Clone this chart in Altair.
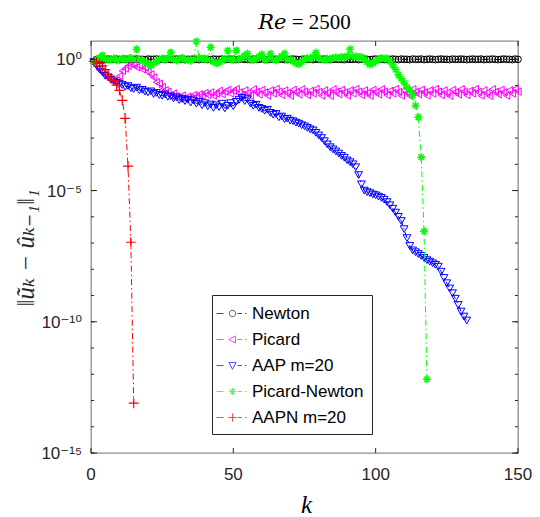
import altair as alt
import pandas as pd

# ---------------- data (log10 of the residual) ----------------
series_names = ["Newton", "Picard", "AAP m=20", "Picard-Newton", "AAPN m=20"]
colors = ["#000000", "#ff00ff", "#0000ff", "#00ff00", "#ff0000"]

newton_log = [
    -0.08, 0.00, 0.01, 0.00, -0.01, 0.01, 0.00, 0.00, 0.01, -0.01,
    0.00, 0.01, 0.00, -0.01, 0.00, 0.01, 0.00, 0.00, -0.01, 0.01,
    0.00, 0.00, 0.01, -0.01, 0.00, 0.01, 0.00, -0.01, 0.00, 0.01,
    0.00, 0.01, -0.01, 0.00, 0.00, 0.01, 0.00, -0.01, 0.01, 0.00,
    0.00, -0.01, 0.01, 0.00, 0.00, 0.01, -0.01, 0.00, 0.01, 0.00,
    -0.01, 0.00, 0.01, 0.00, 0.00, -0.01, 0.01, 0.00, 0.00, 0.01,
    0.00, -0.01, 0.00, 0.01, 0.00, 0.00, 0.01, -0.01, 0.00, 0.00,
    0.01, 0.00, -0.01, 0.00, 0.01, 0.00, 0.00, -0.01, 0.01, 0.00,
    0.00, 0.01, 0.00, -0.01, 0.00, 0.01, 0.00, 0.00, -0.01, 0.01,
    0.00, 0.00, 0.01, -0.01, 0.00, 0.01, 0.00, -0.01, 0.00, 0.01,
    0.00, 0.01, -0.01, 0.00, 0.00, 0.01, 0.00, -0.01, 0.01, 0.00,
    0.00, -0.01, 0.01, 0.00, 0.00, 0.01, -0.01, 0.00, 0.01, 0.00,
    -0.01, 0.00, 0.01, 0.00, 0.00, -0.01, 0.01, 0.00, 0.00, 0.01,
    0.00, -0.01, 0.00, 0.01, 0.00, 0.00, 0.01, -0.01, 0.00, 0.00,
    0.01, 0.00, -0.01, 0.00, 0.01, 0.00, 0.00, -0.01, 0.01, 0.00,
]

picard_log = [
    -0.10, -0.25, -0.40, -0.51, -0.61, -0.69, -0.77, -0.84, -0.81, -0.64,
    -0.44, -0.35, -0.25, -0.18, -0.22, -0.30, -0.24, -0.38, -0.32, -0.47,
    -0.57, -0.69, -0.87, -0.93, -1.06, -1.18, -1.24, -1.38, -1.30, -1.41,
    -1.47, -1.38, -1.49, -1.42, -1.47, -1.36, -1.43, -1.33, -1.39, -1.28,
    -1.36, -1.26, -1.38, -1.30, -1.20, -1.33, -1.23, -1.16, -1.30, -1.20,
    -1.13, -1.26, -1.36, -1.18, -1.28, -1.38, -1.14, -1.24, -1.34, -1.16,
    -1.26, -1.38, -1.18, -1.30, -1.13, -1.23, -1.36, -1.18, -1.28, -1.39,
    -1.16, -1.25, -1.34, -1.14, -1.23, -1.36, -1.20, -1.30, -1.13, -1.24,
    -1.38, -1.18, -1.28, -1.39, -1.14, -1.24, -1.33, -1.16, -1.26, -1.38,
    -1.18, -1.30, -1.13, -1.23, -1.36, -1.18, -1.28, -1.39, -1.16, -1.25,
    -1.34, -1.14, -1.23, -1.36, -1.20, -1.30, -1.13, -1.24, -1.38, -1.18,
    -1.28, -1.39, -1.14, -1.24, -1.33, -1.16, -1.26, -1.38, -1.18, -1.30,
    -1.13, -1.23, -1.36, -1.18, -1.28, -1.39, -1.16, -1.25, -1.34, -1.14,
    -1.23, -1.36, -1.20, -1.30, -1.13, -1.24, -1.38, -1.18, -1.28, -1.39,
    -1.14, -1.24, -1.33, -1.16, -1.26, -1.38, -1.18, -1.30, -1.13, -1.23,
]

aap_log = [
    -0.10, -0.25, -0.38, -0.49, -0.63, -0.69, -0.79, -0.84, -0.90, -0.94,
    -0.98, -1.04, -1.02, -1.10, -1.13, -1.08, -1.18, -1.16, -1.23, -1.26,
    -1.22, -1.32, -1.28, -1.36, -1.39, -1.34, -1.43, -1.41, -1.49, -1.45,
    -1.55, -1.51, -1.59, -1.54, -1.65, -1.57, -1.69, -1.62, -1.75, -1.67,
    -1.79, -1.72, -1.85, -1.75, -1.82, -1.69, -1.87, -1.77, -1.67, -1.79,
    -1.62, -1.55, -1.47, -1.59, -1.52, -1.69, -1.77, -1.73, -1.85, -1.89,
    -1.96, -1.92, -2.04, -2.11, -2.08, -2.21, -2.18, -2.28, -2.26, -2.34,
    -2.36, -2.41, -2.45, -2.51, -2.55, -2.61, -2.67, -2.71, -2.80, -2.90,
    -3.00, -3.12, -3.24, -3.35, -3.43, -3.51, -3.59, -3.68, -3.75, -3.85,
    -3.92, -4.00, -4.11, -4.41, -4.76, -5.00, -5.06, -5.10, -5.15, -5.18,
    -5.23, -5.28, -5.35, -5.44, -5.56, -5.69, -5.84, -6.00, -6.16, -6.47,
    -6.81, -7.11, -7.28, -7.35, -7.42, -7.49, -7.57, -7.65, -7.71, -7.77,
    -7.83, -7.90, -8.09, -8.33, -8.53, -8.73, -8.91, -9.12, -9.36, -9.61,
    -9.80, -9.95,
]

picard_newton_log = [
    -0.10, 0.00, 0.05, 0.15, 0.02, -0.02, 0.00, 0.04, -0.03, 0.00,
    0.03, -0.02, 0.02, 0.06, 0.00, 0.38, 0.00, -0.05, -0.10, -0.18,
    -0.23, -0.15, -0.08, 0.00, 0.03, -0.02, 0.05, 0.26, 0.00, -0.04,
    0.02, 0.06, -0.02, 0.00, -0.05, 0.00, 0.68, 0.05, 0.00, 0.03,
    -0.02, 0.46, -0.10, -0.15, -0.12, -0.05, 0.02, 0.34, 0.00, -0.02,
    0.34, 0.00, 0.05, 0.14, 0.22, 0.00, -0.03, 0.03, 0.10, 0.19,
    -0.02, 0.02, 0.21, 0.00, -0.03, 0.03, 0.12, 0.22, -0.02, 0.00,
    -0.08, -0.15, -0.18, -0.10, 0.00, 0.05, 0.02, 0.10, 0.26, 0.05,
    0.00, -0.02, 0.03, 0.00, 0.06, 0.08, 0.05, 0.10, 0.08, 0.12,
    0.38, 0.10, 0.12, 0.08, 0.10, 0.00, -0.10, -0.20, -0.15, -0.08,
    0.00, 0.05, 0.02, 0.04, -0.08, -0.22, -0.39, -0.59, -0.74, -0.90,
    -1.06, -1.18, -1.37, -1.76, -2.21, -3.73, -6.55, -12.19,
]

aapn_log = [-0.08, -0.10, -0.15, -0.25, -0.39, -0.59, -0.71, -0.81, -0.98, -1.18,
            -1.56, -2.25, -4.07, -6.97, -13.10]

x_ticks = [0, 50, 100, 150]
y_limits = [1e-15, 5]
y_tick_exps = [-15, -14, -13, -12, -11, -10, -9, -8, -7, -6, -5, -4, -3, -2, -1, 0]
y_label_exps = [0, -5, -10, -15]
y_label_texts = ["10⁰", "10⁻⁵", "10⁻¹⁰", "10⁻¹⁵"]
title_text = "𝑅𝑒 = 2500"
x_title = "k"
y_title = "‖ũₖ  −  ûₖ₋₁‖₁"

# ---------------- tables ----------------
all_logs = [newton_log, picard_log, aap_log, picard_newton_log, aapn_log]
rows = []
for name, vals in zip(series_names, all_logs):
    for i, e in enumerate(vals, start=1):
        rows.append({"series": name, "k": i, "v": 10.0 ** e})
df = pd.DataFrame(rows)

legend_df = pd.DataFrame({"label": series_names, "k": [-50] * 5, "v": [1.0] * 5})
xtick_df = pd.DataFrame({"k": x_ticks, "lab": [str(t) for t in x_ticks]})
ytick_df = pd.DataFrame({"v": [10.0 ** e for e in y_tick_exps]})
ymajor_df = pd.DataFrame({"v": [10.0 ** e for e in y_label_exps], "lab": y_label_texts})
xtitle_df = pd.DataFrame({"t": [x_title]})
ytitle_df = pd.DataFrame({"t": [y_title]})

W, H = 427, 412
SANS = "Liberation Sans, Arial, DejaVu Sans"
SERIF = "Liberation Serif, Times New Roman, DejaVu Serif"
INK = "#262626"

xs = alt.Scale(domain=[0, 150], nice=False, zero=False)
ys = alt.Scale(type="log", domain=y_limits, nice=False)

def X(field="k"):
    return alt.X(f"{field}:Q", scale=xs, axis=None)

def Y(field="v"):
    return alt.Y(f"{field}:Q", scale=ys, axis=None)

asterisk = "M-1,0L1,0M0,-1L0,1M-0.7,-0.7L0.7,0.7M-0.7,0.7L0.7,-0.7"
plus = "M-1,0L1,0M0,-1L0,1"
shapes = ["circle", "triangle-left", "triangle-down", asterisk, plus]
sizes = [45, 55, 60, 64, 100]
mstroke = [1, 1, 1, 1.5, 1.2]

layers = []
for i, name in enumerate(series_names):
    base = alt.Chart(df).transform_filter(alt.datum.series == name)
    line = base.mark_line(strokeDash=[6, 3, 1.5, 3], strokeWidth=1,
                          color=colors[i]).encode(x=X(), y=Y())
    pts = base.mark_point(shape=shapes[i], size=sizes[i], filled=False, color=colors[i],
                          strokeWidth=mstroke[i], opacity=1).encode(x=X(), y=Y())
    layers += [line, pts]

# inward tick marks, placed through the scales
def xrule(y0, y1):
    return alt.Chart(xtick_df).mark_rule(color=INK, strokeWidth=1).encode(
        x=X(), y=alt.value(y0), y2=alt.value(y1))

def yrule(src, x0, x1):
    return alt.Chart(src).mark_rule(color=INK, strokeWidth=1).encode(
        y=Y(), x=alt.value(x0), x2=alt.value(x1))

layers += [xrule(H, H - 5), xrule(0, 5),
           yrule(ytick_df, 0, 3), yrule(ytick_df, W, W - 3),
           yrule(ymajor_df, 0, 6), yrule(ymajor_df, W, W - 6)]

# tick labels placed through the scales
layers.append(alt.Chart(xtick_df).mark_text(font=SANS, fontSize=17, color=INK,
                                            align="center", baseline="top").encode(
    x=X(), y=alt.value(H + 14), text="lab:N"))
layers.append(alt.Chart(ymajor_df).mark_text(font=SANS, fontSize=17, color=INK,
                                             align="right", baseline="middle", dy=1).encode(
    y=Y(), x=alt.value(-9), text="lab:N"))

# axis titles
layers.append(alt.Chart(xtitle_df).mark_text(font=SERIF, fontSize=25, fontStyle="italic",
                                             color="black", align="center",
                                             baseline="alphabetic").encode(
    x=alt.value(W / 2 + 2), y=alt.value(H + 60), text="t:N"))
layers.append(alt.Chart(ytitle_df).mark_text(font=SERIF, fontSize=25, fontStyle="italic",
                                             color=INK, align="center", baseline="middle",
                                             angle=270).encode(
    x=alt.value(-65), y=alt.value(207), text="t:N"))

# legend symbols: dash-dot line with marker
lline = "M-1.6,0L-0.9,0M0.5,0L0.95,0M1.25,0L1.4,0"
legend_paths = [
    lline + "M0.32,0A0.32,0.32 0 1,1 -0.32,0A0.32,0.32 0 1,1 0.32,0",
    lline + "M-0.38,0L0.3,-0.36L0.3,0.36Z",
    lline + "M-0.36,-0.3L0.36,-0.3L0,0.38Z",
    lline + "M-0.36,0L0.36,0M0,-0.36L0,0.36M-0.26,-0.26L0.26,0.26M-0.26,0.26L0.26,-0.26",
    lline + "M-0.42,0L0.42,0M0,-0.42L0,0.42",
]

leg = alt.Legend(title=None, orient="none", legendX=121, legendY=254, padding=8,
                 fillColor="white", strokeColor=INK, cornerRadius=0,
                 labelFont=SANS, labelFontSize=17, labelColor="black", labelLimit=300,
                 symbolSize=400, symbolStrokeWidth=1, rowPadding=7, labelOffset=9,
                 symbolOffset=2)

legend_layer = alt.Chart(legend_df).mark_point(filled=False, clip=True, size=400,
                                               strokeWidth=1).encode(
    x=X(), y=Y(),
    color=alt.Color("label:N", scale=alt.Scale(domain=series_names, range=colors), legend=leg),
    shape=alt.Shape("label:N", scale=alt.Scale(domain=series_names, range=legend_paths),
                    legend=leg),
)
layers.append(legend_layer)

chart = alt.layer(*layers).properties(
    width=W, height=H,
    background="white",
    autosize=alt.AutoSizeParams(type="none"),
    padding={"left": 83, "top": 33, "right": 14, "bottom": 64},
    title=alt.TitleParams(title_text, font=SERIF, fontSize=21, fontWeight="normal",
                          color="black", offset=1),
).configure_view(stroke="#8c8c8c", strokeWidth=1.3)

chart.save("out.html", embed_options={"renderer": "svg", "actions": False})
